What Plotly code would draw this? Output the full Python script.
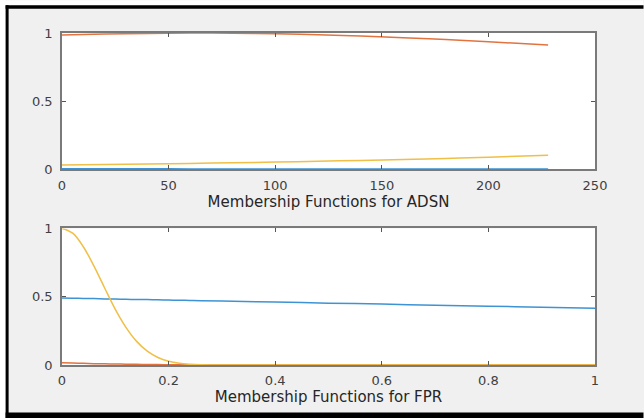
import plotly.graph_objects as go

# ---- data: top panel (ADSN) ----
adsn_x = [0, 20, 40, 60, 80, 100, 120, 140, 160, 180, 200, 228]
adsn_low = [0.004, 0.003, 0.003, 0.002, 0.002, 0.002, 0.002, 0.002, 0.002, 0.002, 0.002, 0.002]
adsn_mid = [0.985, 0.992, 0.997, 1.0, 0.999, 0.995, 0.988, 0.978, 0.966, 0.952, 0.936, 0.912]
adsn_high = [0.030, 0.034, 0.038, 0.042, 0.047, 0.052, 0.058, 0.064, 0.071, 0.079, 0.088, 0.103]

# ---- data: bottom panel (FPR) ----
fpr_x = [0, 0.02, 0.04, 0.06, 0.08, 0.10, 0.12, 0.14, 0.16, 0.18, 0.20, 0.22, 0.24, 0.26,
         0.30, 0.40, 0.50, 0.60, 0.70, 0.80, 0.90, 1.0]
fpr_low = [0.490, 0.489, 0.487, 0.486, 0.484, 0.483, 0.481, 0.480, 0.479, 0.477, 0.476, 0.474,
           0.473, 0.471, 0.468, 0.461, 0.453, 0.446, 0.438, 0.431, 0.423, 0.416]
fpr_mid = [0.016, 0.014, 0.012, 0.010, 0.009, 0.007, 0.006, 0.005, 0.004, 0.003, 0.002, 0.0015,
           0.001, 0.0007, 0.0003, 0.0, 0.0, 0.0, 0.0, 0.0, 0.0, 0.0]
fpr_high = [1.0, 0.965, 0.866, 0.724, 0.564, 0.408, 0.276, 0.173, 0.101, 0.055, 0.028, 0.013,
            0.006, 0.0024, 0.0003, 0.0, 0.0, 0.0, 0.0, 0.0, 0.0, 0.0]

adsn_ticks = [0, 50, 100, 150, 200, 250]
fpr_ticks = [0, 0.2, 0.4, 0.6, 0.8, 1]
fpr_ticktext = ["0", "0.2", "0.4", "0.6", "0.8", "1"]
y_ticks = [0, 0.5, 1]
y_ticktext = ["0", "0.5", "1"]

BLUE = "#3d93d4"
ORANGE = "#e2733f"
YELLOW = "#f0bf45"
LW = 1.5

fig = go.Figure()
fig.add_trace(go.Scatter(x=adsn_x, y=adsn_low, mode="lines", line=dict(color=BLUE, width=LW, shape="spline"), xaxis="x", yaxis="y"))
fig.add_trace(go.Scatter(x=adsn_x, y=adsn_mid, mode="lines", line=dict(color=ORANGE, width=LW, shape="spline"), xaxis="x", yaxis="y"))
fig.add_trace(go.Scatter(x=adsn_x, y=adsn_high, mode="lines", line=dict(color=YELLOW, width=LW, shape="spline"), xaxis="x", yaxis="y"))

fig.add_trace(go.Scatter(x=fpr_x, y=fpr_low, mode="lines", line=dict(color=BLUE, width=LW, shape="spline"), xaxis="x2", yaxis="y2"))
fig.add_trace(go.Scatter(x=fpr_x, y=fpr_mid, mode="lines", line=dict(color=ORANGE, width=LW, shape="spline"), xaxis="x2", yaxis="y2"))
fig.add_trace(go.Scatter(x=fpr_x, y=fpr_high, mode="lines", line=dict(color=YELLOW, width=LW, shape="spline"), xaxis="x2", yaxis="y2"))

W, H = 644, 418
L, R, T, B = 62.4, 48.5, 32.7, 53
pw, ph = W - L - R, H - T - B

def px(x):
    return (x - L) / pw

def py(y):
    return (H - B - y) / ph

tick_font = dict(family="DejaVu Sans", size=13, color="#404040")
title_font = dict(family="DejaVu Sans", size=15, color="#262626")

axis_common = dict(showline=True, linecolor="#7a7a7a", linewidth=1.5, mirror="ticks",
                   ticks="inside", ticklen=4, tickcolor="#555555", tickwidth=1,
                   showgrid=False, zeroline=False, tickfont=tick_font)

fig.update_layout(
    width=W, height=H,
    margin=dict(l=L, r=R, t=T, b=B, pad=0),
    paper_bgcolor="#f0f0f0",
    plot_bgcolor="white",
    showlegend=False,
    xaxis=dict(domain=[0, 1], range=[0, 250], tickvals=adsn_ticks, anchor="y",
               ticklabelstandoff=3,
               title=dict(text="Membership Functions for ADSN", standoff=2, font=title_font),
               **axis_common),
    yaxis=dict(domain=[py(169), 1], range=[0, 1], tickvals=y_ticks, ticktext=y_ticktext, anchor="x",
               ticklabelstandoff=5, **axis_common),
    xaxis2=dict(domain=[0, 1], range=[0, 1], tickvals=fpr_ticks, ticktext=fpr_ticktext, anchor="y2",
                ticklabelstandoff=3,
                title=dict(text="Membership Functions for FPR", standoff=2, font=title_font),
                **axis_common),
    yaxis2=dict(domain=[0, py(228.3)], range=[0, 1], tickvals=y_ticks, ticktext=y_ticktext, anchor="x2",
                ticklabelstandoff=5, **axis_common),
    shapes=[
        # white outer strips (left/top)
        dict(type="rect", xref="paper", yref="paper", x0=px(0), x1=px(6), y0=py(H), y1=py(0),
             fillcolor="white", line=dict(width=0), layer="below"),
        dict(type="rect", xref="paper", yref="paper", x0=px(0), x1=px(W), y0=py(5), y1=py(0),
             fillcolor="white", line=dict(width=0), layer="below"),
        # black frame: left, top, bottom
        dict(type="rect", xref="paper", yref="paper", x0=px(6), x1=px(9), y0=py(418), y1=py(5),
             fillcolor="black", line=dict(width=0)),
        dict(type="rect", xref="paper", yref="paper", x0=px(6), x1=px(W), y0=py(8.5), y1=py(5),
             fillcolor="black", line=dict(width=0)),
        dict(type="rect", xref="paper", yref="paper", x0=px(6), x1=px(W), y0=py(418), y1=py(412.5),
             fillcolor="black", line=dict(width=0)),
    ],
)

fig.write_html("out.html", config={"displayModeBar": False},
               post_script="document.body.style.margin='0';document.body.style.overflow='hidden';")
